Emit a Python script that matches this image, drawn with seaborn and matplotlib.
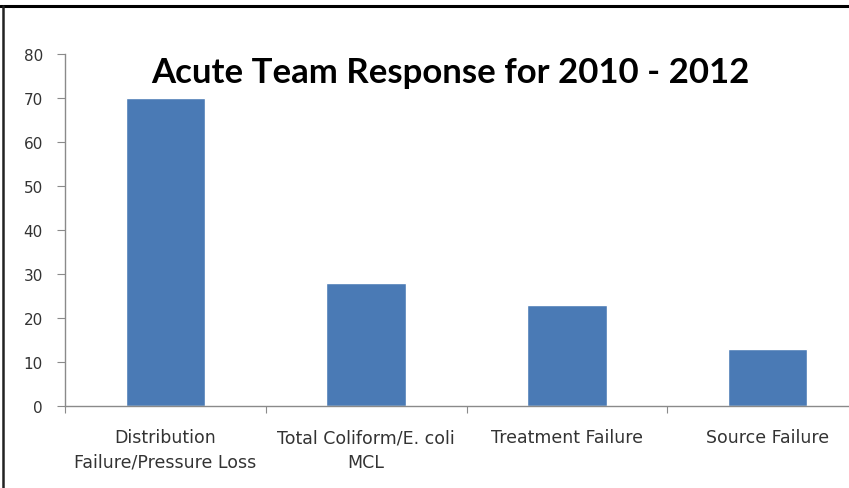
import matplotlib
matplotlib.use("Agg")
import matplotlib.pyplot as plt
from matplotlib.lines import Line2D
import seaborn as sns
import pandas as pd

categories = ["Distribution\nFailure/Pressure Loss", "Total Coliform/E. coli\nMCL",
              "Treatment Failure", "Source Failure"]
values = [70, 28, 23, 13]
yticks = [0, 10, 20, 30, 40, 50, 60, 70, 80]
title = "Acute Team Response for 2010 - 2012"

sns.set_theme(style="white")
plt.rcParams['font.family'] = ['DejaVu Sans']

df = pd.DataFrame({"cat": categories, "val": values})

fig = plt.figure(figsize=(8.49, 4.89), dpi=100)
ax = fig.add_axes([65/849, (489-407)/489, 803/849, 352/489])
sns.barplot(data=df, x="cat", y="val", color="#4A7AB5", width=0.395,
            saturation=1, ax=ax)
ax.set_xlim(-0.5, 3.5)
ax.set_ylim(0, 80)
ax.set_yticks(yticks)
ax.set_xlabel("")
ax.set_ylabel("")
for s in ["top", "right"]:
    ax.spines[s].set_visible(False)
for s in ["left", "bottom"]:
    ax.spines[s].set_color("#8a8a8a")
    ax.spines[s].set_linewidth(1.0)
ax.tick_params(axis="y", which="major", direction="out", length=6, width=0.8,
               color="#8a8a8a", labelsize=11, labelcolor="#333333", pad=10, left=True)
ax.set_xticks([-0.5, 0.5, 1.5, 2.5, 3.5], minor=True)
ax.tick_params(axis="x", which="minor", direction="out", length=5, width=0.8,
               color="#8a8a8a", bottom=True)
ax.tick_params(axis="x", which="major", length=0, labelsize=12.5,
               labelcolor="#333333", pad=16)
for lab in ax.get_xticklabels():
    lab.set_multialignment("center")
    lab.set_linespacing(1.45)

fig.text(450/849, 1 - 73/489, title, ha="center", va="center",
         fontsize=25, fontweight="bold", family=["Lato", "DejaVu Sans"], color="black")

# outer frame lines
fig.add_artist(Line2D([0, 1], [1 - 7/489, 1 - 7/489], transform=fig.transFigure,
                      color="black", linewidth=2.2))
fig.add_artist(Line2D([2.5/849, 2.5/849], [0, 1 - 7/489], transform=fig.transFigure,
                      color="#222222", linewidth=1.8))

fig.savefig("out.png", dpi=100)
